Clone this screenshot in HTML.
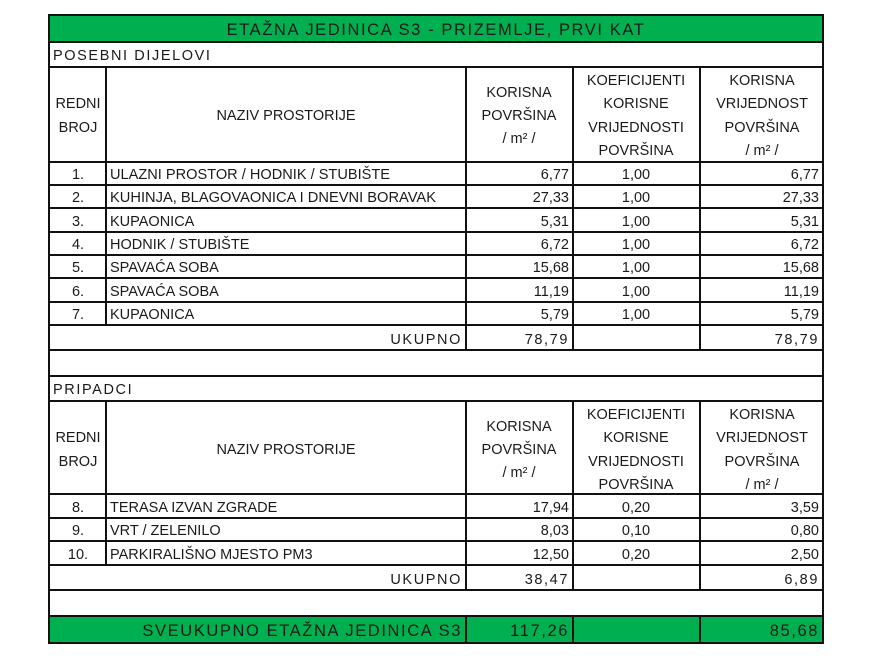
<!DOCTYPE html>
<html><head><meta charset="utf-8"><style>
html,body{margin:0;padding:0;background:#fff;}
svg{display:block;}
text{font-family:"Liberation Sans",sans-serif;font-size:14.5px;fill:#1a1a1a;}
.c{text-anchor:middle}.r{text-anchor:end}
.sp{letter-spacing:1.6px}
</style></head><body>
<svg width="876" height="670" viewBox="0 0 876 670" xmlns="http://www.w3.org/2000/svg">
<rect x="49" y="15" width="774" height="27" fill="#00b050"/>
<rect x="49" y="616" width="774" height="27" fill="#00b050"/>
<g stroke="#111" stroke-width="2" fill="none">
<rect x="49" y="15" width="774" height="628"/>
<line x1="49" y1="42" x2="823" y2="42"/>
<line x1="49" y1="67" x2="823" y2="67"/>
<line x1="49" y1="162" x2="823" y2="162"/>
<line x1="49" y1="185" x2="823" y2="185"/>
<line x1="49" y1="208" x2="823" y2="208"/>
<line x1="49" y1="232" x2="823" y2="232"/>
<line x1="49" y1="255" x2="823" y2="255"/>
<line x1="49" y1="278" x2="823" y2="278"/>
<line x1="49" y1="302" x2="823" y2="302"/>
<line x1="49" y1="325" x2="823" y2="325"/>
<line x1="49" y1="350" x2="823" y2="350"/>
<line x1="49" y1="376" x2="823" y2="376"/>
<line x1="49" y1="401" x2="823" y2="401"/>
<line x1="49" y1="494" x2="823" y2="494"/>
<line x1="49" y1="518" x2="823" y2="518"/>
<line x1="49" y1="541" x2="823" y2="541"/>
<line x1="49" y1="565" x2="823" y2="565"/>
<line x1="49" y1="590" x2="823" y2="590"/>
<line x1="49" y1="616" x2="823" y2="616"/>
<line x1="106" y1="67" x2="106" y2="325"/>
<line x1="466" y1="67" x2="466" y2="350"/>
<line x1="573" y1="67" x2="573" y2="350"/>
<line x1="700" y1="67" x2="700" y2="350"/>
<line x1="106" y1="401" x2="106" y2="565"/>
<line x1="466" y1="401" x2="466" y2="590"/>
<line x1="573" y1="401" x2="573" y2="590"/>
<line x1="700" y1="401" x2="700" y2="590"/>
<line x1="466" y1="616" x2="466" y2="643"/>
<line x1="573" y1="616" x2="573" y2="643"/>
<line x1="700" y1="616" x2="700" y2="643"/>
</g>
<text x="436" y="35" class="c sp" style="font-size:16.5px">ETAŽNA JEDINICA S3 - PRIZEMLJE, PRVI KAT</text>
<text x="53" y="60" class="sp">POSEBNI DIJELOVI</text>
<text x="53" y="394" class="sp">PRIPADCI</text>

<g>
<text x="78" y="108" class="c">REDNI</text><text x="78" y="132" class="c">BROJ</text>
<text x="286" y="120" class="c">NAZIV PROSTORIJE</text>
<text x="519" y="97" class="c">KORISNA</text><text x="519" y="120" class="c">POVRŠINA</text><text x="519" y="143" class="c">/ m² /</text>
<text x="636" y="85" class="c">KOEFICIJENTI</text><text x="636" y="108" class="c">KORISNE</text><text x="636" y="132" class="c">VRIJEDNOSTI</text><text x="636" y="155" class="c">POVRŠINA</text>
<text x="762" y="85" class="c">KORISNA</text><text x="762" y="108" class="c">VRIJEDNOST</text><text x="762" y="132" class="c">POVRŠINA</text><text x="762" y="155" class="c">/ m² /</text>
</g>
<g transform="translate(0,334)">
<text x="78" y="108" class="c">REDNI</text><text x="78" y="132" class="c">BROJ</text>
<text x="286" y="120" class="c">NAZIV PROSTORIJE</text>
<text x="519" y="97" class="c">KORISNA</text><text x="519" y="120" class="c">POVRŠINA</text><text x="519" y="143" class="c">/ m² /</text>
<text x="636" y="85" class="c">KOEFICIJENTI</text><text x="636" y="108" class="c">KORISNE</text><text x="636" y="132" class="c">VRIJEDNOSTI</text><text x="636" y="155" class="c">POVRŠINA</text>
<text x="762" y="85" class="c">KORISNA</text><text x="762" y="108" class="c">VRIJEDNOST</text><text x="762" y="132" class="c">POVRŠINA</text><text x="762" y="155" class="c">/ m² /</text>
</g>

<text x="78" y="179" class="c">1.</text><text x="110" y="179" textLength="280" lengthAdjust="spacingAndGlyphs">ULAZNI PROSTOR / HODNIK / STUBIŠTE</text><text x="569" y="179" class="r">6,77</text><text x="636" y="179" class="c">1,00</text><text x="819" y="179" class="r">6,77</text>
<text x="78" y="202" class="c">2.</text><text x="110" y="202" textLength="326" lengthAdjust="spacingAndGlyphs">KUHINJA, BLAGOVAONICA I DNEVNI BORAVAK</text><text x="569" y="202" class="r">27,33</text><text x="636" y="202" class="c">1,00</text><text x="819" y="202" class="r">27,33</text>
<text x="78" y="226" class="c">3.</text><text x="110" y="226">KUPAONICA</text><text x="569" y="226" class="r">5,31</text><text x="636" y="226" class="c">1,00</text><text x="819" y="226" class="r">5,31</text>
<text x="78" y="249" class="c">4.</text><text x="110" y="249">HODNIK / STUBIŠTE</text><text x="569" y="249" class="r">6,72</text><text x="636" y="249" class="c">1,00</text><text x="819" y="249" class="r">6,72</text>
<text x="78" y="272" class="c">5.</text><text x="110" y="272">SPAVAĆA SOBA</text><text x="569" y="272" class="r">15,68</text><text x="636" y="272" class="c">1,00</text><text x="819" y="272" class="r">15,68</text>
<text x="78" y="296" class="c">6.</text><text x="110" y="296">SPAVAĆA SOBA</text><text x="569" y="296" class="r">11,19</text><text x="636" y="296" class="c">1,00</text><text x="819" y="296" class="r">11,19</text>
<text x="78" y="319" class="c">7.</text><text x="110" y="319">KUPAONICA</text><text x="569" y="319" class="r">5,79</text><text x="636" y="319" class="c">1,00</text><text x="819" y="319" class="r">5,79</text>
<text x="462" y="344" class="r sp">UKUPNO</text><text x="569" y="344" class="r sp">78,79</text><text x="819" y="344" class="r sp">78,79</text>

<text x="78" y="512" class="c">8.</text><text x="110" y="512">TERASA IZVAN ZGRADE</text><text x="569" y="512" class="r">17,94</text><text x="636" y="512" class="c">0,20</text><text x="819" y="512" class="r">3,59</text>
<text x="78" y="535" class="c">9.</text><text x="110" y="535">VRT / ZELENILO</text><text x="569" y="535" class="r">8,03</text><text x="636" y="535" class="c">0,10</text><text x="819" y="535" class="r">0,80</text>
<text x="78" y="559" class="c">10.</text><text x="110" y="559">PARKIRALIŠNO MJESTO PM3</text><text x="569" y="559" class="r">12,50</text><text x="636" y="559" class="c">0,20</text><text x="819" y="559" class="r">2,50</text>
<text x="462" y="584" class="r sp">UKUPNO</text><text x="569" y="584" class="r sp">38,47</text><text x="819" y="584" class="r sp">6,89</text>

<text x="462" y="636" class="r sp" style="font-size:16.5px">SVEUKUPNO ETAŽNA JEDINICA S3</text>
<text x="569" y="636" class="r sp" style="font-size:16.5px">117,26</text>
<text x="819" y="636" class="r sp" style="font-size:16.5px">85,68</text>
</svg>
</body></html>
